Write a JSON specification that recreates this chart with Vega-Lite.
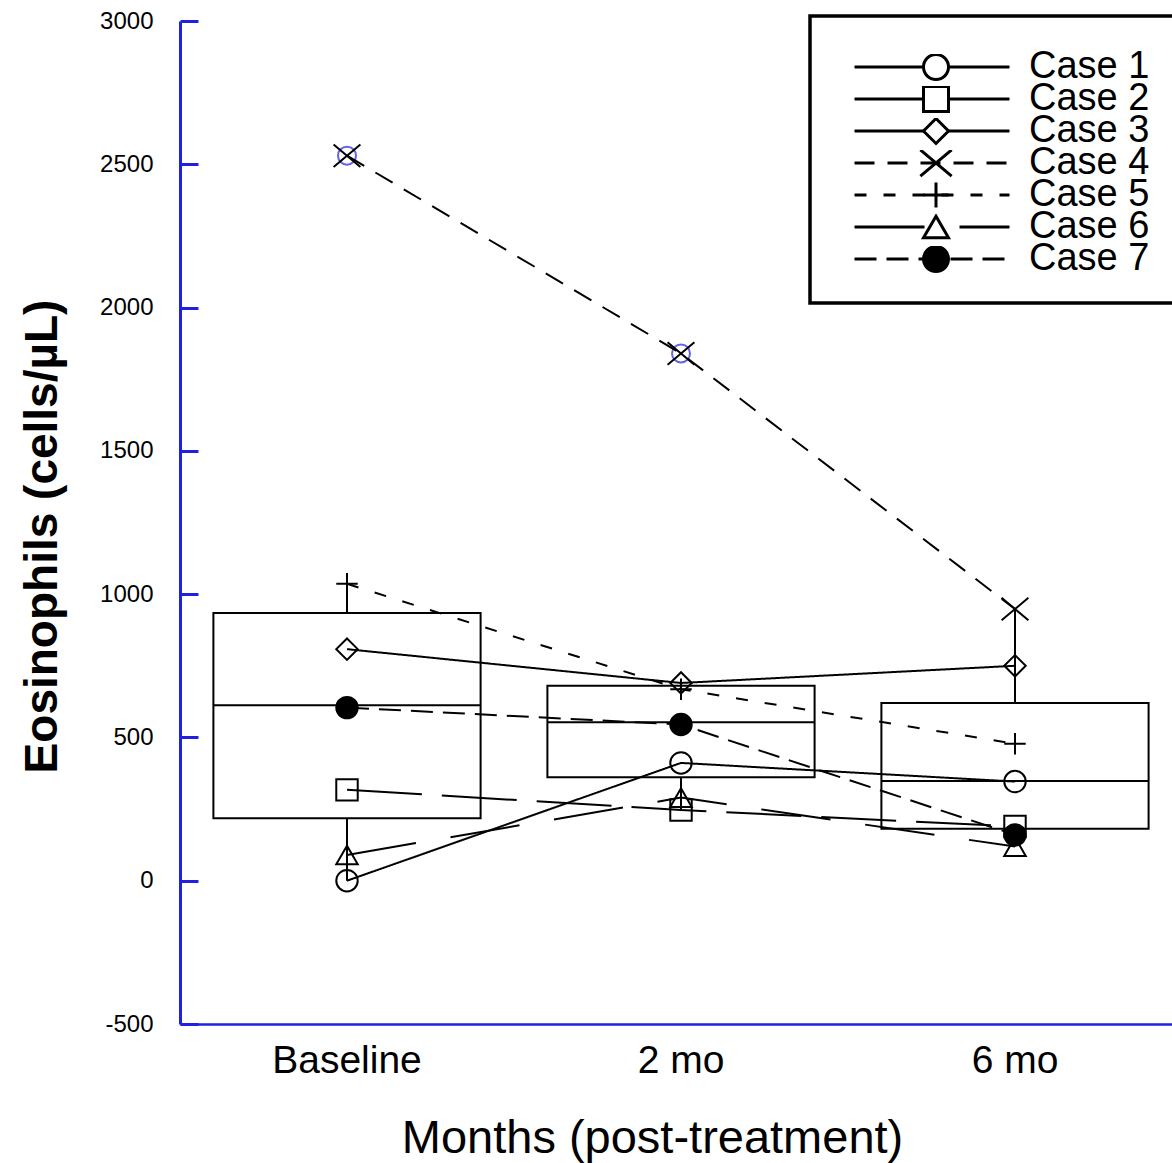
{
  "$schema": "https://vega.github.io/schema/vega-lite/v6.json",
  "width": 992,
  "height": 1003,
  "autosize": {"type": "none"},
  "padding": {"left": 180, "top": 21, "right": 0, "bottom": 139},
  "background": "white",
  "config": {
    "view": {"stroke": null},
    "font": "Liberation Sans",
    "legend": {"symbolStrokeColor": "black", "symbolStrokeWidth": 3},
    "axisY": {
      "domainColor": "#2020e0", "domainWidth": 3, "tickColor": "#2020e0", "tickWidth": 3,
      "tickSize": -18, "labelPadding": 45, "labelFontSize": 24, "labelColor": "black",
      "labelFont": "Liberation Sans", "grid": false, "tickCount": 7,
      "titleFontSize": 46, "titleFontWeight": "bold", "titleColor": "black", "titleFont": "Liberation Sans",
      "titleX": -138, "titleY": 515, "titleBaseline": "middle", "titleAngle": -90, "titleAlign": "center"
    },
    "axisX": {
      "domainColor": "#2020e0", "domainWidth": 2.5, "ticks": false, "tickSize": 0,
      "labelFontSize": 39, "labelColor": "black", "labelFont": "Liberation Sans", "labelAngle": 0,
      "labelBaseline": "alphabetic", "labelPadding": 48, "grid": false,
      "titleFontSize": 47, "titleFontWeight": "normal", "titleColor": "black", "titleFont": "Liberation Sans",
      "titleX": 472, "titleY": 128, "titleBaseline": "alphabetic", "titleAlign": "center"
    }
  },
  "datasets": {
    "cases": [
      {"case": "Case 1", "month": "Baseline", "value": 0},
      {"case": "Case 1", "month": "2 mo", "value": 411},
      {"case": "Case 1", "month": "6 mo", "value": 346},
      {"case": "Case 2", "month": "Baseline", "value": 317},
      {"case": "Case 2", "month": "2 mo", "value": 247},
      {"case": "Case 2", "month": "6 mo", "value": 189},
      {"case": "Case 3", "month": "Baseline", "value": 808},
      {"case": "Case 3", "month": "2 mo", "value": 690},
      {"case": "Case 3", "month": "6 mo", "value": 750},
      {"case": "Case 4", "month": "Baseline", "value": 2530},
      {"case": "Case 4", "month": "2 mo", "value": 1840},
      {"case": "Case 4", "month": "6 mo", "value": 948},
      {"case": "Case 5", "month": "Baseline", "value": 1036},
      {"case": "Case 5", "month": "2 mo", "value": 668},
      {"case": "Case 5", "month": "6 mo", "value": 478},
      {"case": "Case 6", "month": "Baseline", "value": 90},
      {"case": "Case 6", "month": "2 mo", "value": 290},
      {"case": "Case 6", "month": "6 mo", "value": 119},
      {"case": "Case 7", "month": "Baseline", "value": 604},
      {"case": "Case 7", "month": "2 mo", "value": 545},
      {"case": "Case 7", "month": "6 mo", "value": 160}
    ],
    "boxes": [
      {"month": "Baseline", "lo": 0, "q1": 218, "median": 612, "q3": 934, "hi": 1036},
      {"month": "2 mo", "lo": 247, "q1": 361, "median": 553, "q3": 680, "hi": 690},
      {"month": "6 mo", "lo": 119, "q1": 181, "median": 348, "q3": 620, "hi": 948}
    ],
    "outliers": [
      {"month": "Baseline", "value": 2530},
      {"month": "2 mo", "value": 1840}
    ]
  },
  "encoding": {
    "x": {
      "field": "month", "type": "nominal", "sort": ["Baseline", "2 mo", "6 mo"],
      "scale": {"type": "band", "range": [0, 1002], "paddingInner": 0, "paddingOuter": 0},
      "title": "Months (post-treatment)"
    }
  },
  "layer": [
    {
      "data": {"name": "outliers"},
      "mark": {"type": "point", "shape": "circle", "size": 324, "stroke": "#2323d9", "strokeWidth": 2, "filled": false},
      "encoding": {
        "y": {"field": "value", "type": "quantitative", "scale": {"domain": [-500, 3000], "nice": false, "zero": false}, "title": "Eosinophils (cells/µL)",
          "axis": {"labelExpr": "toString(datum.value)"}}
      }
    },
    {
      "data": {"name": "cases"},
      "mark": {"type": "point", "filled": true, "stroke": "black", "strokeWidth": 2, "size": 460, "opacity": 1},
      "encoding": {
        "y": {"field": "value", "type": "quantitative", "scale": {"domain": [-500, 3000], "nice": false, "zero": false}, "title": "Eosinophils (cells/µL)",
          "axis": {"labelExpr": "toString(datum.value)"}},
        "shape": {
          "field": "case", "type": "nominal",
          "scale": {"domain": ["Case 1", "Case 2", "Case 3", "Case 4", "Case 5", "Case 6", "Case 7"],
            "range": ["circle", "square", "diamond", "M-1.25,-1.05L1.25,1.05M-1.25,1.05L1.25,-1.05", "M-1,0L1,0M0,-1L0,1", "triangle-up", "circle"]},
          "legend": {"orient": "none", "legendX": 630, "legendY": -5, "title": " ", "titleFontSize": 11, "titlePadding": 2,
            "padding": 25, "clipHeight": 26, "rowPadding": -9, "symbolSize": 625, "symbolStrokeWidth": 3, "symbolStrokeColor": "black",
            "symbolOffset": 82, "labelOpacity": 0, "labelExpr": "' '", "labelFontSize": 38, "labelOffset": 18, "zindex": 2,
            "encoding": {"symbols": {"stroke": {"value": "black"}, "strokeWidth": {"value": 3}}}}
        },
        "fill": {
          "field": "case", "type": "nominal",
          "scale": {"domain": ["Case 1", "Case 2", "Case 3", "Case 4", "Case 5", "Case 6", "Case 7"],
            "range": ["white", "white", "white", "white", "white", "white", "black"]},
          "legend": {"orient": "none", "legendX": 630, "legendY": -5, "title": " ", "titleFontSize": 11, "titlePadding": 2,
            "padding": 25, "clipHeight": 26, "rowPadding": -9, "symbolSize": 625, "symbolStrokeWidth": 3, "symbolStrokeColor": "black",
            "symbolOffset": 82, "labelOpacity": 0, "labelExpr": "' '", "labelFontSize": 38, "labelOffset": 18, "zindex": 2,
            "encoding": {"symbols": {"stroke": {"value": "black"}, "strokeWidth": {"value": 3}}}}
        }
      }
    },
    {
      "data": {"name": "boxes"},
      "mark": {"type": "bar", "fill": "transparent", "stroke": "black", "strokeWidth": 2, "width": {"band": 0.8}},
      "encoding": {
        "y": {"field": "q1", "type": "quantitative", "scale": {"domain": [-500, 3000], "nice": false, "zero": false}, "title": "Eosinophils (cells/µL)",
          "axis": {"labelExpr": "toString(datum.value)"}},
        "y2": {"field": "q3"}
      }
    },
    {
      "data": {"name": "boxes"},
      "mark": {"type": "tick", "orient": "horizontal", "color": "black", "thickness": 2, "size": 267, "opacity": 1},
      "encoding": {
        "y": {"field": "median", "type": "quantitative", "scale": {"domain": [-500, 3000], "nice": false, "zero": false}, "title": "Eosinophils (cells/µL)",
          "axis": {"labelExpr": "toString(datum.value)"}}
      }
    },
    {
      "data": {"name": "boxes"},
      "mark": {"type": "rule", "color": "black", "strokeWidth": 2},
      "encoding": {
        "y": {"field": "lo", "type": "quantitative", "scale": {"domain": [-500, 3000], "nice": false, "zero": false}, "title": "Eosinophils (cells/µL)",
          "axis": {"labelExpr": "toString(datum.value)"}},
        "y2": {"field": "q1"}
      }
    },
    {
      "data": {"name": "boxes"},
      "mark": {"type": "rule", "color": "black", "strokeWidth": 2},
      "encoding": {
        "y": {"field": "q3", "type": "quantitative", "scale": {"domain": [-500, 3000], "nice": false, "zero": false}, "title": "Eosinophils (cells/µL)",
          "axis": {"labelExpr": "toString(datum.value)"}},
        "y2": {"field": "hi"}
      }
    },
    {
      "data": {"name": "cases"},
      "mark": {"type": "line", "color": "black", "strokeWidth": 2},
      "encoding": {
        "y": {"field": "value", "type": "quantitative", "scale": {"domain": [-500, 3000], "nice": false, "zero": false}, "title": "Eosinophils (cells/µL)",
          "axis": {"labelExpr": "toString(datum.value)"}},
        "order": {"value": null},
        "strokeDash": {
          "field": "case", "type": "nominal",
          "scale": {"range": [[1, 0], [75, 20], [1, 0], [20, 13], [12, 17], [70, 35], [22, 10]]},
          "legend": {"orient": "none", "legendX": 630, "legendY": -5, "title": " ", "titleFontSize": 11, "titlePadding": 2,
            "padding": 25, "clipHeight": 26, "rowPadding": -9, "symbolType": "stroke", "symbolSize": 24025,
            "symbolStrokeWidth": 3, "symbolStrokeColor": "black", "symbolOffset": 18,
            "labelFontSize": 38, "labelFont": "Liberation Sans", "labelColor": "black", "labelOffset": 18,
            "strokeColor": "black", "zindex": 1,
            "encoding": {"legend": {"strokeWidth": {"value": 3.5}}}}
        }
      }
    }
  ]
}
